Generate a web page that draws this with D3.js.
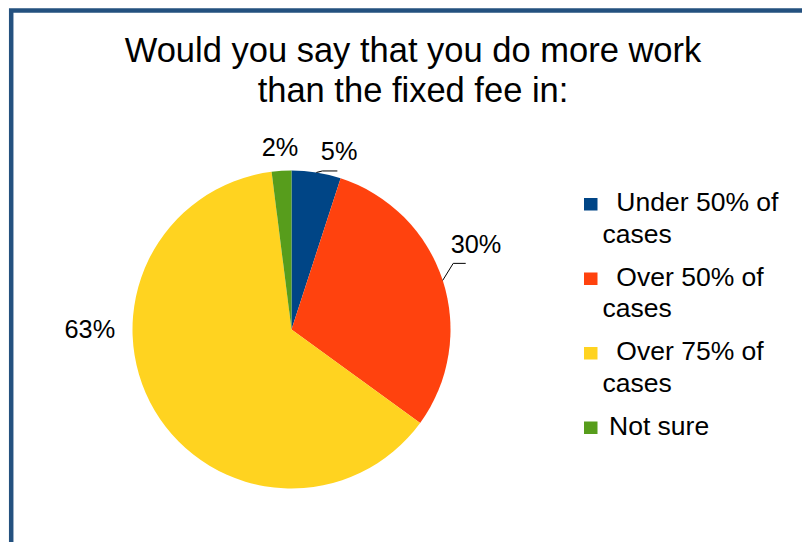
<!DOCTYPE html>
<html>
<head>
<meta charset="utf-8">
<script src="https://d3js.org/d3.v7.min.js"></script>
<style>
  html, body { margin: 0; padding: 0; background: #ffffff; }
  svg { display: block; font-family: "Liberation Sans", Arial, sans-serif; }
  .pre { white-space: pre; }
</style>
</head>
<body>
<svg id="chart" width="802" height="542"></svg>
<script>
// Survey answers, share of respondents (%)
const categories = ["Under 50% of cases", "Over 50% of cases", "Over 75% of cases", "Not sure"];
const shares = [5, 30, 63, 2];
const valueLabels = ["5%", "30%", "63%", "2%"];
// Legend entries, each split into its wrapped lines
const legendLines = [[" Under 50% of", "cases"], [" Over 50% of", "cases"], [" Over 75% of", "cases"], ["Not sure"]];
const colors = ["#004586", "#ff420e", "#ffd320", "#579d1c"];
const titleLines = ["Would you say that you do more work", "than the fixed fee in:"];

// Label placement relative to each slice's outer mid-arc point
const labelLayout = [
  { leader: true,  elbow: [6, -1.5], run: 15, dx: 4.5, dy: -12.5, anchor: "start" },
  { leader: true,  elbow: [10.5, -17], run: 12.5, dx: 8, dy: -27.5, anchor: "start" },
  { leader: false, dx: -39.5, dy: -72.5, anchor: "end" },
  { leader: false, dx: -1.5, dy: -15, anchor: "middle" }
];

const svg = d3.select("#chart");

// Frame (only the top and left edges fall inside the view)
svg.append("rect")
  .attr("x", 11.2).attr("y", 10.5)
  .attr("width", 1000).attr("height", 1000)
  .attr("fill", "none")
  .attr("stroke", "#24517f")
  .attr("stroke-width", 4.5);

// Title
svg.append("text")
  .attr("text-anchor", "middle")
  .attr("font-size", 34.5)
  .attr("fill", "#000")
  .selectAll("tspan")
  .data(titleLines)
  .join("tspan")
  .attr("x", 413)
  .attr("y", (d, i) => 62 + i * 40)
  .text(d => d);

// Pie
const cx = 291.5, cy = 329.5, radius = 159;
const pie = d3.pie().sort(null).value(d => d.value);
const arcs = pie(categories.map((c, i) => ({ name: c, value: shares[i], i })));
const arc = d3.arc().innerRadius(0).outerRadius(radius);
const edge = d3.arc().innerRadius(radius).outerRadius(radius);

const g = svg.append("g").attr("transform", `translate(${cx},${cy})`);

g.selectAll("path.slice")
  .data(arcs)
  .join("path")
  .attr("class", "slice")
  .attr("d", arc)
  .attr("fill", d => colors[d.data.i]);

// Value labels with leader lines
arcs.forEach((a, k) => {
  const lay = labelLayout[k];
  const [px, py] = edge.centroid(a);
  if (lay.leader) {
    const ex = px + lay.elbow[0], ey = py + lay.elbow[1];
    g.append("path")
      .attr("d", d3.line()([[px, py], [ex, ey], [ex + lay.run, ey]]))
      .attr("fill", "none")
      .attr("stroke", "#000")
      .attr("stroke-width", 1);
  }
  g.append("text")
    .attr("x", px + lay.dx)
    .attr("y", py + lay.dy)
    .attr("text-anchor", lay.anchor)
    .attr("font-size", 25.3)
    .attr("fill", "#000")
    .text(valueLabels[k]);
});

// Legend
const legend = svg.append("g").attr("transform", "translate(584,211)");
const item = legend.selectAll("g.item")
  .data(categories)
  .join("g")
  .attr("class", "item")
  .attr("transform", (d, i) => `translate(0,${i * 74.5})`);

item.append("rect")
  .attr("x", 0).attr("y", -13)
  .attr("width", 13.5).attr("height", 12.5)
  .attr("fill", (d, i) => colors[i]);

item.append("text")
  .attr("class", "pre")
  .attr("font-size", 26.5)
  .attr("fill", "#000")
  .each(function (d, i) {
    d3.select(this).selectAll("tspan")
      .data(legendLines[i])
      .join("tspan")
      .attr("class", "pre")
      .attr("x", (t, j) => j === 0 ? 25 : 18.5)
      .attr("y", (t, j) => j * 31.5)
      .text(t => t);
  });
</script>
</body>
</html>
